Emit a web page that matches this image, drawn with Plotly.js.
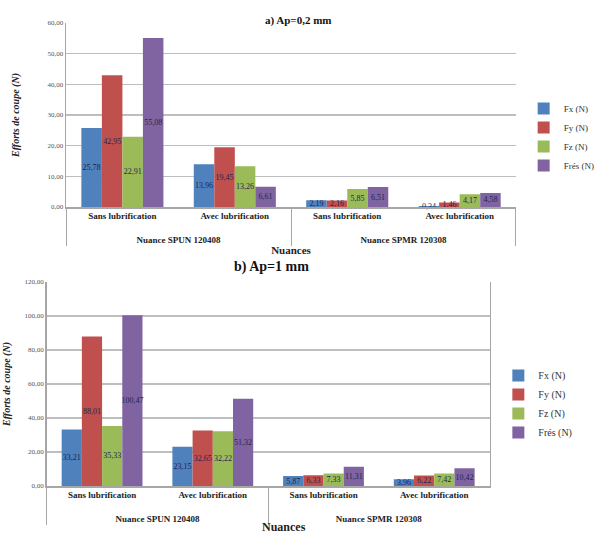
<!DOCTYPE html>
<html><head><meta charset="utf-8">
<script src="https://cdn.plot.ly/plotly-3.0.1.min.js"></script>
<style>body{margin:0;background:#fff} #chart{width:600px;height:535px}</style>
</head><body><div id="chart"></div>
<script>
const nuances = ['Nuance SPUN 120408','Nuance SPUN 120408','Nuance SPMR 120308','Nuance SPMR 120308'];
const conditions = ['Sans lubrification','Avec lubrification','Sans lubrification','Avec lubrification'];
const seriesNames = ['Fx (N)','Fy (N)','Fz (N)','Frés (N)'];
const seriesColors = ['#4F81BD','#C0504D','#9BBB59','#8064A2'];
// a) Ap = 0,2 mm
const fx_a = [25.78, 13.96, 2.19, 0.34];
const fy_a = [42.95, 19.45, 2.16, 1.46];
const fz_a = [22.91, 13.26, 5.85, 4.17];
const fres_a = [55.08, 6.61, 6.51, 4.58];
// b) Ap = 1 mm
const fx_b = [33.21, 23.15, 5.87, 3.96];
const fy_b = [88.01, 32.65, 6.33, 6.22];
const fz_b = [35.33, 32.22, 7.33, 7.42];
const fres_b = [100.47, 51.32, 11.31, 10.42];

const fmt = v => v.toFixed(2).replace('.', ',');
const serif = 'Liberation Serif';
const W = 600, H = 535;
const px = x => x / W, py = y => 1 - y / H;
const groupLabels = nuances.map(n => '<br>' + n);

function mk(vals, i, ax, leg) {
  return {
    type: 'bar', name: seriesNames[i], x: [groupLabels, conditions], y: vals,
    xaxis: ax === 1 ? 'x' : 'x2', yaxis: ax === 1 ? 'y' : 'y2',
    legend: leg, marker: {color: seriesColors[i]},
    text: vals.map(fmt), textposition: 'inside', insidetextanchor: 'middle', textangle: 0,
    constraintext: 'none', cliponaxis: false,
    textfont: {family: serif, size: 8, color: '#1d2550'},
    hoverinfo: 'skip'
  };
}
const data = [
  mk(fx_a,0,1,'legend'), mk(fy_a,1,1,'legend'), mk(fz_a,2,1,'legend'), mk(fres_a,3,1,'legend'),
  mk(fx_b,0,2,'legend2'), mk(fy_b,1,2,'legend2'), mk(fz_b,2,2,'legend2'), mk(fres_b,3,2,'legend2')
];

const xCommon = {
  type: 'multicategory', showdividers: true, dividercolor: '#A6A6A6', dividerwidth: 1,
  showline: true, linecolor: '#A6A6A6', linewidth: 1.5, ticks: '',
  tickfont: {family: serif, size: 9, color: '#222', weight: 'bold'}
};
const yCommon = {
  showline: true, linecolor: '#A6A6A6', linewidth: 1.5, showgrid: true, gridcolor: '#BEBEBE', gridwidth: 1.5,
  tickformat: '.2f', ticks: '', zeroline: false,
  tickfont: {family: serif, size: 7, color: '#555'}
};
const layout = {
  width: W, height: H, margin: {l: 0, r: 0, t: 0, b: 0},
  font: {family: serif},
  paper_bgcolor: '#fff', plot_bgcolor: '#fff', separators: ', ',
  barmode: 'group', bargap: 0.27, bargroupgap: 0,
  xaxis: Object.assign({}, xCommon, {domain: [px(68), px(530)], anchor: 'y',
    title: {text: 'Nuances', font: {family: serif, size: 11, color: '#222', weight: 'bold'}, standoff: 2}}),
  yaxis: Object.assign({}, yCommon, {domain: [py(207), py(23)], anchor: 'x', range: [0, 60], dtick: 10,
    title: {text: 'Efforts de coupe (N)', font: {family: serif, size: 10, color: '#222', weight: 'bold', style: 'italic'}, standoff: 26}}),
  xaxis2: Object.assign({}, xCommon, {domain: [px(48), px(503)], anchor: 'y2'}),
  yaxis2: Object.assign({}, yCommon, {domain: [py(486), py(282)], anchor: 'x2', range: [0, 120], dtick: 20, mirror: true,
    title: {text: 'Efforts de coupe (N)', font: {family: serif, size: 10, color: '#222', weight: 'bold', style: 'italic'}, standoff: 12}}),
  legend: {x: px(538), y: py(94), xanchor: 'left', yanchor: 'top', bgcolor: 'rgba(0,0,0,0)',
    font: {family: serif, size: 9, color: '#333'}, tracegroupgap: 0, itemwidth: 30},
  legend2: {x: px(512), y: py(361), xanchor: 'left', yanchor: 'top', bgcolor: 'rgba(0,0,0,0)',
    font: {family: serif, size: 10, color: '#333'}, tracegroupgap: 0, itemwidth: 30},
  annotations: [
    {text: 'a) Ap=0,2 mm', x: px(306), y: py(12), xref: 'paper', yref: 'paper', showarrow: false,
     font: {family: serif, size: 11, color: '#111', weight: 'bold'}},
    {text: 'b) Ap=1 mm', x: px(279), y: py(267), xref: 'paper', yref: 'paper', showarrow: false,
     font: {family: serif, size: 14, color: '#111', weight: 'bold'}},
    {text: 'Nuances', x: px(292), y: py(527), xref: 'paper', yref: 'paper', showarrow: false,
     yanchor: 'middle', font: {family: serif, size: 12, color: '#222', weight: 'bold'}}
  ],
  showlegend: true
};
Plotly.newPlot('chart', data, layout, {displayModeBar: false, staticPlot: true});
</script>
</body></html>
